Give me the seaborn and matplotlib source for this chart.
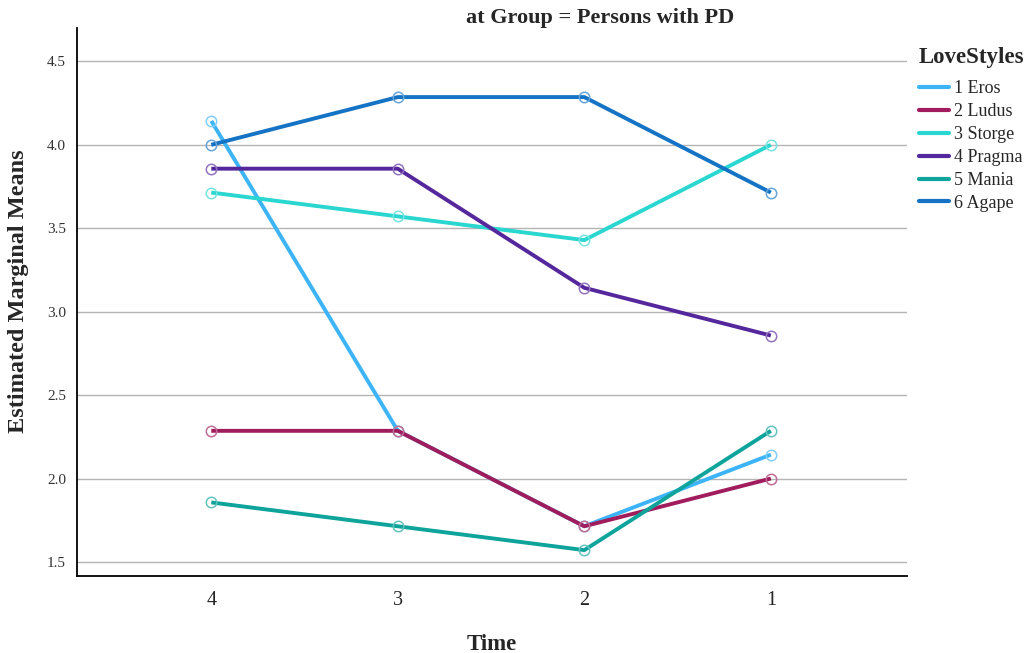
import numpy as np
import pandas as pd
import matplotlib
matplotlib.use("Agg")
import matplotlib.pyplot as plt
import matplotlib.colors as mcolors
from matplotlib.lines import Line2D
import seaborn as sns

# ---- data ----
times = ["4", "3", "2", "1"]
styles = ["1 Eros", "2 Ludus", "3 Storge", "4 Pragma", "5 Mania", "6 Agape"]
eros   = [4.143, 2.286, 1.714, 2.143]
ludus  = [2.286, 2.286, 1.714, 2.000]
storge = [3.714, 3.571, 3.429, 4.000]
pragma = [3.857, 3.857, 3.143, 2.857]
mania  = [1.857, 1.714, 1.571, 2.286]
agape  = [4.000, 4.286, 4.286, 3.714]
yticks = [1.5, 2.0, 2.5, 3.0, 3.5, 4.0, 4.5]
colors = ["#3cb4f7", "#a01c5c", "#2ad6d0", "#55279c", "#0ea39b", "#1473c4"]

series = [eros, ludus, storge, pragma, mania, agape]
rows = []
for s, vals in zip(styles, series):
    for t, v in zip(times, vals):
        rows.append({"Time": t, "LoveStyles": s, "Mean": v})
df = pd.DataFrame(rows)

sns.set_theme(style="white")
plt.rcParams["font.family"] = ["Liberation Serif", "DejaVu Serif"]

fig = plt.figure(figsize=(10.30, 6.53), dpi=100)
ax = fig.add_axes([77/1030, 1-576/653, (907-77)/1030, (576-28)/653])

sns.lineplot(data=df, x="Time", y="Mean", hue="LoveStyles", hue_order=styles,
             palette=colors, marker="o", markersize=7.5, linewidth=2.8,
             markerfacecolor="none", markeredgewidth=1.1, ax=ax, sort=False,
             legend=True)

def lighten(c, amt=0.35):
    r, g, b = mcolors.to_rgb(c)
    return (r + (1-r)*amt, g + (1-g)*amt, b + (1-b)*amt)

for line, c in zip(ax.get_lines()[:len(styles)], colors):
    line.set_markeredgecolor(lighten(c))
    line.set_solid_capstyle("butt")

ax.set_xlim(-0.72, 3.73)
ax.set_ylim(1.416, 4.70)
ax.set_yticks(yticks)
ax.set_yticklabels([f"{v:.1f}" for v in yticks], fontsize=11, color="#333333")
ax.tick_params(axis="x", labelsize=14.5, length=0, pad=11)
ax.tick_params(axis="y", length=0, pad=8)
ax.yaxis.grid(True, color="#b4b4b4", linewidth=1.0)
ax.set_axisbelow(True)
for sp in ["top", "right"]:
    ax.spines[sp].set_visible(False)
for sp in ["left", "bottom"]:
    ax.spines[sp].set_color("black")
    ax.spines[sp].set_linewidth(1.3)

ax.set_xlabel("Time", fontsize=16.5, fontweight="bold", labelpad=17)
ax.set_ylabel("Estimated Marginal Means", fontsize=17.5, fontweight="bold", labelpad=12)
ax.yaxis.set_label_coords(-0.058, 0.52)

fig.text(600/1030, 1-18/653, "at Group = Persons with PD", ha="center", va="center",
         fontsize=16, fontweight="bold")

ax.get_legend().remove()
hs = [Line2D([0], [0], color=c, linewidth=3.0) for c in colors]
leg = fig.legend(hs, styles, loc="upper left", bbox_to_anchor=(915/1030, 1-43/653),
                 frameon=False, fontsize=13, title="LoveStyles",
                 title_fontproperties={"weight": "bold", "size": 16.5},
                 handlelength=1.7, handletextpad=0.25, labelspacing=0.325,
                 borderaxespad=0, borderpad=0.2)
leg._legend_box.align = "left"
leg._legend_box.sep = 9.2

fig.savefig("out.png", dpi=100)
